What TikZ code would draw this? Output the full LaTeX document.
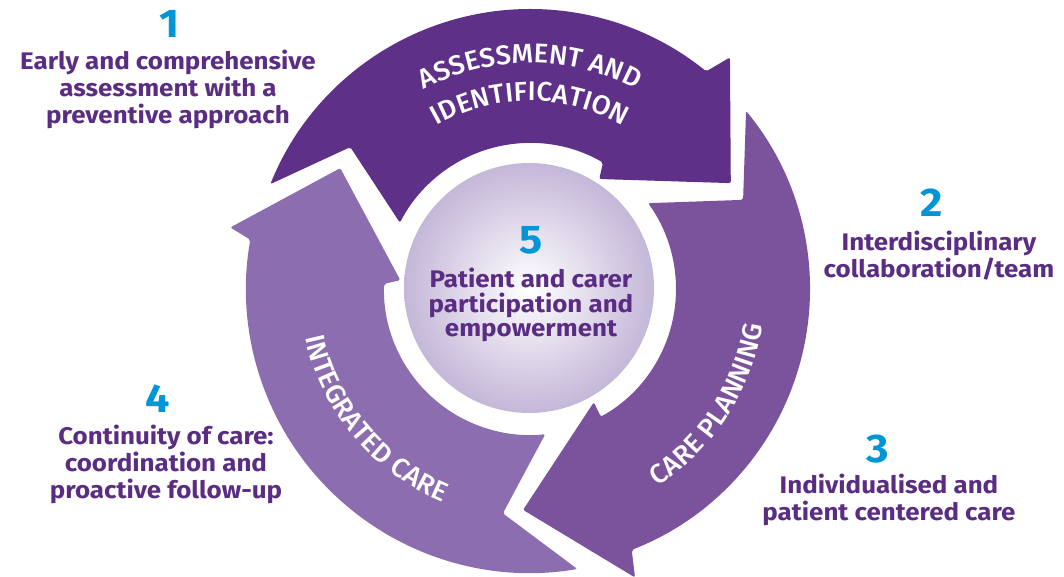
\documentclass[tikz,border=0pt]{standalone}
\usepackage{fontspec}
\setmainfont{Fira Sans}[FakeStretch=1.08]
\newfontfamily\lblfont{Fira Sans Medium}[FakeStretch=1.02]
\usetikzlibrary{decorations.text}
\definecolor{arrA}{RGB}{94,48,135}
\definecolor{arrB}{RGB}{123,83,157}
\definecolor{arrC}{RGB}{140,110,176}
\definecolor{txtpurple}{RGB}{90,45,130}
\definecolor{numblue}{RGB}{0,150,214}
\definecolor{hubedge}{RGB}{196,183,216}
\begin{document}
\begin{tikzpicture}[x=1pt,y=1pt,
  num/.style={text=numblue, font=\fontsize{40}{40}\selectfont\bfseries, inner sep=0pt},
  desc/.style={text=txtpurple, font=\fontsize{24}{27}\selectfont\bfseries, align=center, inner sep=0pt},
  hubdesc/.style={text=txtpurple, font=\fontsize{24}{24.5}\selectfont\bfseries, align=center, inner sep=0pt},
  arrowshape/.style={rounded corners=2pt},
  arclabel/.style={decorate, decoration={text along path, text align=center, text color=white, text={|\lblfont\fontsize{27}{27}\selectfont|#1}}}
]
\useasboundingbox (0,0) rectangle (1064,-577);
\coordinate (C) at (530,-289);

% central hub
\node[circle, minimum size=250pt, inner sep=0pt, inner color=white, outer color=hubedge] (hub) at (529,-288) {};

\begin{scope}[shift={(C)}]
  % arrow 1: assessment and identification
  \fill[arrA, arrowshape] (158:280) arc[start angle=158, end angle=51, radius=280]
    -- (49.2:306) -- (27.8:227) -- (57.8:130) -- (60:146)
    arc[start angle=60, end angle=153, radius=146] -- (141.7:229) -- cycle;
  % arrow 2: care planning
  \fill[arrB, arrowshape] (39.5:280) arc[start angle=39.5, end angle=-68.7, radius=280]
    -- (-70:307) -- (-91.8:221) -- (-60.6:130) -- (-61:146)
    arc[start angle=-61, end angle=36, radius=146] -- (22.7:231) -- cycle;
  % arrow 3: integrated care
  \fill[arrC, arrowshape] (-80.4:284) arc[start angle=-80.4, end angle=-190, radius=284]
    -- (168.4:306) -- (147.5:225) -- (176.1:130) -- (178:146)
    arc[start angle=178, end angle=276, radius=146] -- (263.1:226) -- cycle;

  % curved labels
  \path[arclabel={ASSESSMENT AND}] (130:226) arc[start angle=130, end angle=50, radius=226];
  \path[arclabel={IDENTIFICATION}] (135:188) arc[start angle=135, end angle=45, radius=188];
  \path[arclabel={CARE PLANNING}] (-78:235) arc[start angle=-78, end angle=12, radius=235];
  \path[arclabel={INTEGRATED CARE}] (170:230) arc[start angle=170, end angle=270, radius=230];
\end{scope}

% hub text
\node[num] (n5) at (531,-240) {5};
\node[hubdesc] (d5) at (531,-305) {Patient and carer\\participation and\\empowerment};

% side labels
\node[num] (n1) at (170,-24) {1};
\node[desc] (d1) at (168,-89) {Early and comprehensive\\assessment with a\\preventive approach};
\node[num] (n2) at (932,-203) {2};
\node[desc] (d2) at (939,-256) {Interdisciplinary\\collaboration/team};
\node[num] (n3) at (878,-449) {3};
\node[desc] (d3) at (889,-500) {Individualised and\\patient centered care};
\node[num] (n4) at (158,-399) {4};
\node[desc] (d4) at (166,-464) {Continuity of care:\\coordination and\\proactive follow-up};
\end{tikzpicture}
\end{document}
